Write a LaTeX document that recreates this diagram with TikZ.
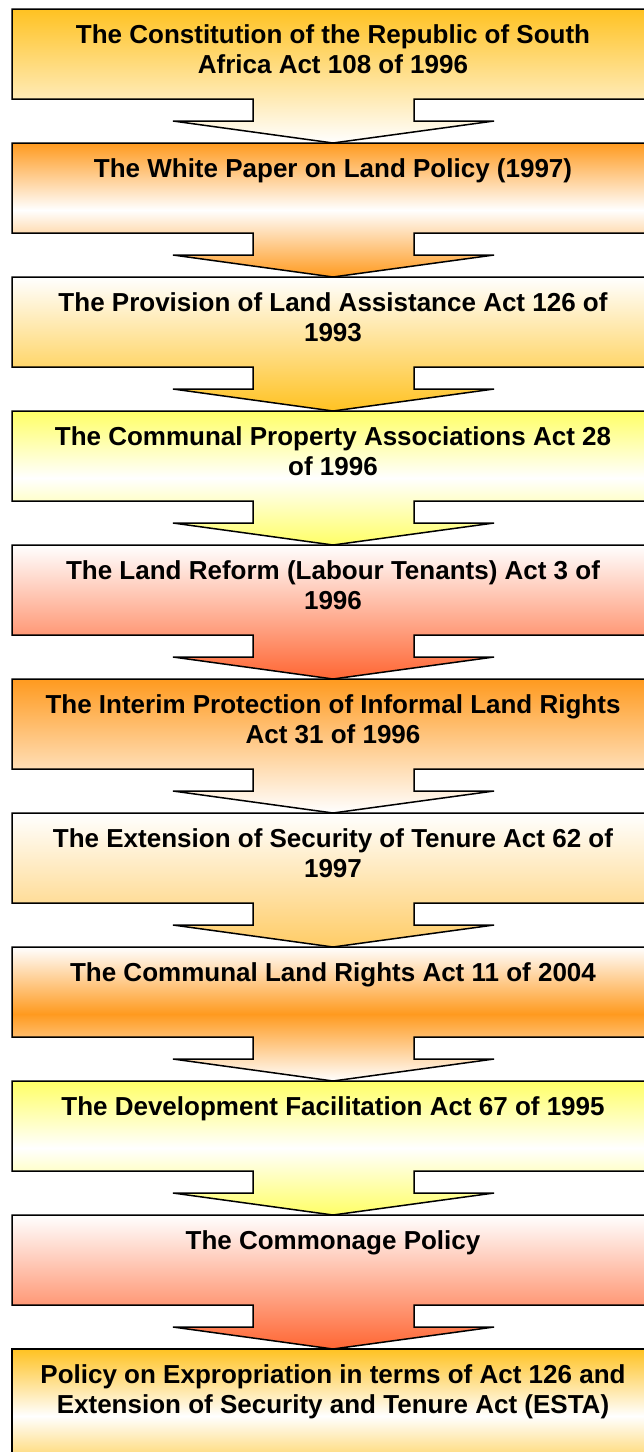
\documentclass[tikz,border=0pt]{standalone}
\usepackage{fontspec}
\setmainfont{Liberation Sans}
\definecolor{cgold}{HTML}{FFC222}
\definecolor{corange}{HTML}{FF9A1F}
\definecolor{cyellow}{HTML}{FFFF66}
\definecolor{cred}{HTML}{FF6633}
\definecolor{clgold}{HTML}{FFCC66}
\tikzset{
  boxline/.style={draw=black, line width=1.5pt},
  boxtext/.style={anchor=north, inner sep=0pt, align=center, text=black,
    font=\fontsize{26}{30}\selectfont\bfseries},
}
\newcommand\calloutshape[4]{%
  \path[boxline,#2] (12,#1) -- (654,#1) -- (654,#1+90) -- (414,#1+90) -- (414,#1+112)
    -- (494,#1+112) -- (333,#1+134) -- (173,#1+112) -- (253,#1+112) -- (253,#1+90)
    -- (12,#1+90) -- cycle;
  \node[boxtext] (#3) at (333,#1+13.5) {\strut #4};
}
\begin{document}
\begin{tikzpicture}[x=1pt,y=-1pt]
\useasboundingbox (0,0) rectangle (644,1452);
\clip (0,0) rectangle (644,1452);
\fill[white] (0,0) rectangle (644,1452);
\calloutshape{9}{top color=cgold,bottom color=white}{b1}{The Constitution of the Republic of South\\Africa Act 108 of 1996}
\calloutshape{143}{top color=corange,bottom color=corange,middle color=white}{b2}{The White Paper on Land Policy (1997)}
\calloutshape{277}{top color=white,bottom color=cgold}{b3}{The Provision of Land Assistance Act 126 of\\1993}
\calloutshape{411}{top color=cyellow,bottom color=cyellow,middle color=white}{b4}{The Communal Property Associations Act 28\\of 1996}
\calloutshape{545}{top color=white,bottom color=cred}{b5}{The Land Reform (Labour Tenants) Act 3 of\\1996}
\calloutshape{679}{top color=corange,bottom color=white}{b6}{The Interim Protection of Informal Land Rights\\Act 31 of 1996}
\calloutshape{813}{top color=white,bottom color=clgold}{b7}{The Extension of Security of Tenure Act 62 of\\1997}
\calloutshape{947}{top color=white,bottom color=white,middle color=corange}{b8}{The Communal Land Rights Act 11 of 2004}
\calloutshape{1081}{top color=cyellow,bottom color=cyellow,middle color=white}{b9}{The Development Facilitation Act 67 of 1995}
\calloutshape{1215}{top color=white,bottom color=cred}{b10}{The Commonage Policy}
\path[boxline,top color=cgold,bottom color=cgold,middle color=white] (12,1349) rectangle (654,1483);
\node[boxtext] (b11) at (333,1349+13.5) {\strut Policy on Expropriation in terms of Act 126 and\\Extension of Security and Tenure Act (ESTA)};
\end{tikzpicture}
\end{document}
